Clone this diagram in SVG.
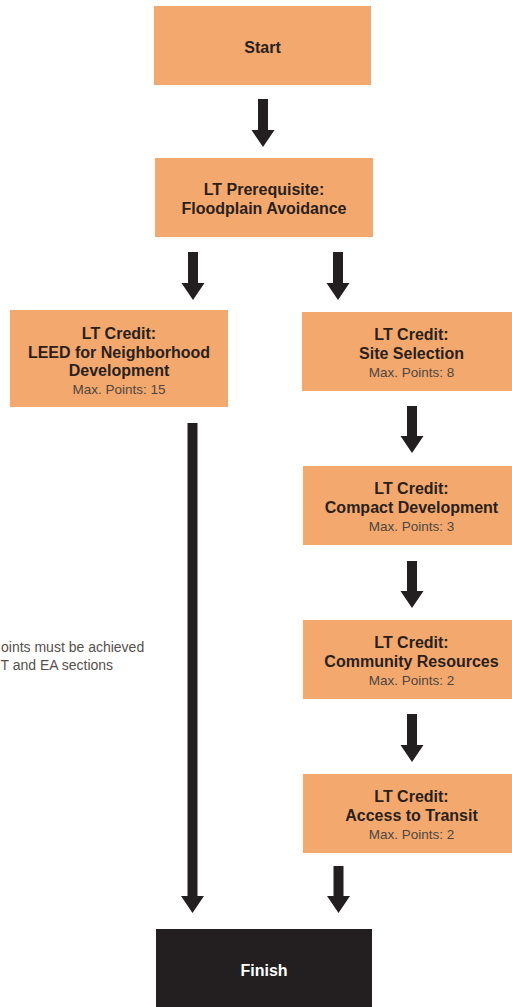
<svg xmlns="http://www.w3.org/2000/svg" width="512" height="1007" viewBox="0 0 512 1007">
<style>
.box{fill:#f3a96d}
.dark{fill:#231f20}
.t{font-family:"Liberation Sans",Arial,sans-serif;font-weight:bold;font-size:16px;fill:#2a1f1a;text-anchor:middle}
.s{font-family:"Liberation Sans",Arial,sans-serif;font-size:13.5px;fill:#4d4642;text-anchor:middle}
.w{font-family:"Liberation Sans",Arial,sans-serif;font-weight:bold;font-size:16px;fill:#ffffff;text-anchor:middle}
.note{font-family:"Liberation Sans",Arial,sans-serif;font-size:14px;fill:#55504d}
.arrow{fill:#231f20}
</style>
<rect width="512" height="1007" fill="#ffffff"/>
<g id="connectors">
<path class="arrow" d="M258,99 H268 V130 H274.5 L263,147 L251.5,130 H258 Z"/>
<path class="arrow" d="M188,252 H198 V283 H204.5 L193,300 L181.5,283 H188 Z"/>
<path class="arrow" d="M333,252 H343 V283 H349.5 L338,300 L326.5,283 H333 Z"/>
<path class="arrow" d="M407,406 H417 V436 H423.5 L412,453 L400.5,436 H407 Z"/>
<path class="arrow" d="M407,561 H417 V591 H423.5 L412,608 L400.5,591 H407 Z"/>
<path class="arrow" d="M407,714 H417 V745 H423.5 L412,762 L400.5,745 H407 Z"/>
<path class="arrow" d="M333.5,866 H343.5 V896 H350 L338.5,913 L327,896 H333.5 Z"/>
<path class="arrow" d="M187.5,423 H197.5 V896 H204 L192.5,913 L181,896 H187.5 Z"/>
</g>
<g id="start">
<rect class="box" x="154" y="6" width="217" height="79"/>
<text class="t" x="262.5" y="52.5">Start</text>
</g>
<g id="prerequisite">
<rect class="box" x="155" y="158" width="218" height="79"/>
<text class="t" x="264" y="195">LT Prerequisite:</text>
<text class="t" x="264" y="213.5">Floodplain Avoidance</text>
</g>
<g id="leed-nd">
<rect class="box" x="10" y="310" width="218" height="97"/>
<text class="t" x="119" y="339">LT Credit:</text>
<text class="t" x="119" y="357.5">LEED for Neighborhood</text>
<text class="t" x="119" y="376">Development</text>
<text class="s" x="119" y="394">Max. Points: 15</text>
</g>
<g id="site-selection">
<rect class="box" x="302" y="312" width="220" height="79"/>
<text class="t" x="411.5" y="340">LT Credit:</text>
<text class="t" x="411.5" y="359">Site Selection</text>
<text class="s" x="411.5" y="377">Max. Points: 8</text>
</g>
<g id="compact-development">
<rect class="box" x="303" y="466" width="219" height="79"/>
<text class="t" x="411.5" y="494">LT Credit:</text>
<text class="t" x="411.5" y="513">Compact Development</text>
<text class="s" x="411.5" y="531">Max. Points: 3</text>
</g>
<g id="community-resources">
<rect class="box" x="303" y="620" width="219" height="79"/>
<text class="t" x="411.5" y="648">LT Credit:</text>
<text class="t" x="411.5" y="667">Community Resources</text>
<text class="s" x="411.5" y="685">Max. Points: 2</text>
</g>
<g id="access-to-transit">
<rect class="box" x="303" y="774" width="219" height="79"/>
<text class="t" x="411.5" y="802">LT Credit:</text>
<text class="t" x="411.5" y="821">Access to Transit</text>
<text class="s" x="411.5" y="839">Max. Points: 2</text>
</g>
<g id="finish">
<rect class="dark" x="156" y="929" width="216" height="90"/>
<text class="w" x="264" y="975.5">Finish</text>
</g>
<g id="note">
<text class="note" x="1" y="652">oints must be achieved</text>
<text class="note" x="0.5" y="670">T and EA sections</text>
</g>
</svg>
